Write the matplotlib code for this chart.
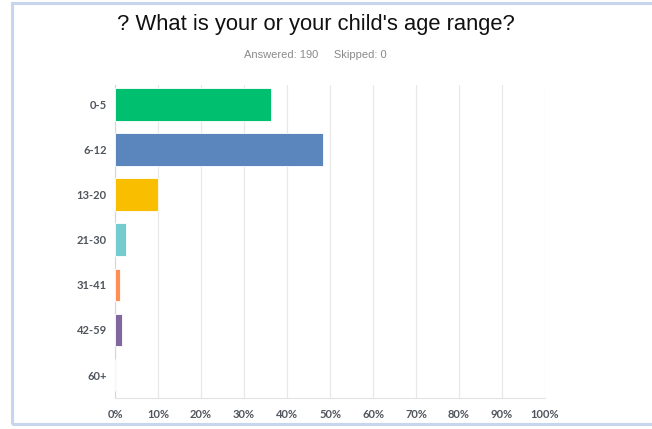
import matplotlib.pyplot as plt
from matplotlib.patches import Rectangle

# data
categories = ['0-5', '6-12', '13-20', '21-30', '31-41', '42-59', '60+']
counts = [69, 92, 19, 5, 2, 3, 0]
answered = 190
skipped = 0
percent = [c / answered * 100 for c in counts]
colors = ['#00bf6f', '#5b86bd', '#f9be00', '#74cccf', '#ff8e55', '#80679e', '#999999']
xticks = list(range(0, 101, 10))
xticklabels = [f'{t}%' for t in xticks]

plt.rcParams['font.family'] = ['Liberation Sans', 'DejaVu Sans']

fig = plt.figure(figsize=(6.52, 4.29), dpi=100)
ax = fig.add_axes([0.1764, 0.0723, 0.6595, 0.7296])

ypos = list(range(len(categories)))
ax.barh(ypos, percent, height=0.73, color=colors, edgecolor='white', linewidth=0.6, zorder=3)

ax.set_xlim(0, 100)
ax.set_ylim(6.51, -0.44)
ax.set_xticks(xticks)
ax.set_xticklabels(xticklabels, fontsize=8, color='#50555d', family=['Lato', 'DejaVu Sans'],
                   fontweight='bold')
ax.set_yticks(ypos)
ax.set_yticklabels(categories, fontsize=8, color='#50555d', family=['Lato', 'DejaVu Sans'],
                   fontweight='bold')
ax.tick_params(length=0)
ax.tick_params(axis='x', pad=8)
ax.tick_params(axis='y', pad=6)

ax.grid(axis='x', color='#e8e8e8', linewidth=0.9, zorder=0)
for s in ['top', 'right']:
    ax.spines[s].set_visible(False)
ax.spines['left'].set_color('#d6d6d6')
ax.spines['bottom'].set_color('#e3e3e3')

# title and counts
fig.text(0.485, 0.944, "? What is your or your child's age range?", fontsize=15.8,
         ha='center', va='center', color='#111111')
fig.text(0.483, 0.872, f'Answered: {answered}     Skipped: {skipped}', fontsize=8,
         ha='center', va='center', color='#8a8a8a')

# frame of the screenshot
fig.patches.append(Rectangle((12 / 652, 5 / 429), 1.2, 1 - 8 / 429, transform=fig.transFigure,
                             fill=False, edgecolor='#c8d5ef', linewidth=2.2))

fig.savefig('out.png', dpi=100)
